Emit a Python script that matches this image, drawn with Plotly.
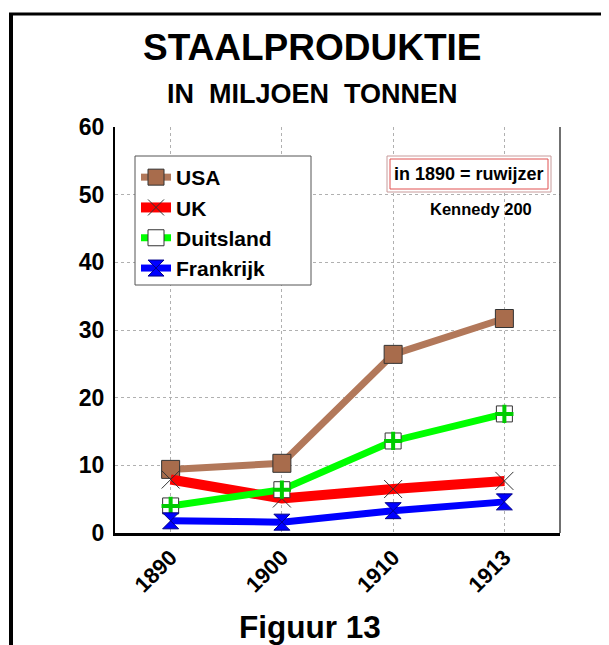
import plotly.graph_objects as go

years = ["1890", "1900", "1910", "1913"]
usa = [9.4, 10.3, 26.4, 31.7]
uk = [7.9, 5.1, 6.5, 7.7]
duitsland = [4.0, 6.4, 13.6, 17.6]
frankrijk = [1.8, 1.6, 3.3, 4.6]
y_ticks = [0, 10, 20, 30, 40, 50, 60]

FONT = "Arial, Liberation Sans, sans-serif"
OFF = 8  # page body margin

fig = go.Figure()
fig.add_trace(go.Scatter(
    x=years, y=usa, name="USA", mode="lines+markers",
    line=dict(color="#B2785A", width=7),
    marker=dict(symbol="square", size=18, color="#A86C4C", line=dict(color="#333333", width=1))))
fig.add_trace(go.Scatter(
    x=years, y=uk, name="UK", mode="lines+markers",
    line=dict(color="#FF0000", width=10),
    marker=dict(symbol="x-thin", size=18, color="#333333", line=dict(color="#333333", width=1))))
fig.add_trace(go.Scatter(
    x=years, y=duitsland, name="Duitsland", mode="lines+markers",
    line=dict(color="#00FF00", width=7),
    marker=dict(symbol="square", size=16, color="white", line=dict(color="#333333", width=1))))
fig.add_trace(go.Scatter(
    x=years, y=duitsland, name="Duitsland", mode="markers", showlegend=False,
    marker=dict(symbol="cross-thin", size=13, color="#00CC00", line=dict(color="#00CC00", width=4))))
fig.add_trace(go.Scatter(
    x=years, y=frankrijk, name="Frankrijk", mode="lines+markers",
    line=dict(color="#0000FF", width=7),
    marker=dict(symbol="hourglass", size=16, color="#0000FF", line=dict(color="#000088", width=1))))

def px_x(x):
    # x: pixel in reference page; plot left edge at 115 page
    return (x - OFF - 107) / 445.0

def py(y):
    # y: pixel in reference page; plot bottom at 533 page
    return (533 - y) / 406.0

shapes = [
    # outer frame (left + top)
    dict(type="line", xref="paper", yref="paper", x0=px_x(11), x1=px_x(11), y0=py(13), y1=py(660),
         line=dict(color="black", width=4)),
    dict(type="line", xref="paper", yref="paper", x0=px_x(9), x1=px_x(620), y0=py(14), y1=py(14),
         line=dict(color="black", width=3)),
    # right border of plot
    dict(type="line", xref="paper", yref="paper", x0=1, x1=1, y0=0, y1=1,
         line=dict(color="#404040", width=1.5)),
    # legend box
    dict(type="rect", xref="paper", yref="paper", x0=px_x(135), x1=px_x(311), y0=py(285), y1=py(156),
         line=dict(color="#555555", width=1), fillcolor="white"),
    # annotation double box
    dict(type="rect", xref="paper", yref="paper", x0=px_x(387), x1=px_x(551), y0=py(192), y1=py(156),
         line=dict(color="#C89A9A", width=1), fillcolor="white"),
    dict(type="rect", xref="paper", yref="paper", x0=px_x(390), x1=px_x(548), y0=py(189), y1=py(159),
         line=dict(color="#E05050", width=1)),
]

annotations = [
    dict(text="<b>STAALPRODUKTIE</b>", xref="paper", yref="paper", x=px_x(312), y=py(47),
         showarrow=False, font=dict(family=FONT, size=37, color="black"), xanchor="center", yanchor="middle"),
    dict(text="<b>IN  MILJOEN  TONNEN</b>", xref="paper", yref="paper", x=px_x(312), y=py(94),
         showarrow=False, font=dict(family=FONT, size=27, color="black"), xanchor="center", yanchor="middle"),
    dict(text="<b>Figuur 13</b>", xref="paper", yref="paper", x=px_x(310), y=py(627),
         showarrow=False, font=dict(family=FONT, size=31.5, color="black"), xanchor="center", yanchor="middle"),
    dict(text="<b>in 1890 = ruwijzer</b>", xref="paper", yref="paper", x=px_x(469), y=py(174),
         showarrow=False, font=dict(family=FONT, size=18, color="black"), xanchor="center", yanchor="middle"),
    dict(text="<b>Kennedy 200</b>", xref="paper", yref="paper", x=px_x(481), y=py(209),
         showarrow=False, font=dict(family=FONT, size=16.5, color="black"), xanchor="center", yanchor="middle"),
]

fig.update_layout(
    width=601, height=637,
    margin=dict(l=107, r=49, t=119, b=112),
    paper_bgcolor="white", plot_bgcolor="white",
    showlegend=True,
    legend=dict(x=px_x(136), y=py(157), xanchor="left", yanchor="top",
                bgcolor="rgba(0,0,0,0)", borderwidth=0,
                font=dict(family=FONT, size=21, color="black", weight="bold"),
                tracegroupgap=0, itemwidth=30),
    shapes=shapes,
    annotations=annotations,
    xaxis=dict(type="category", range=[-0.5, 3.5], showgrid=True, gridcolor="#B0B0B0",
               griddash="dot", gridwidth=1, showline=True, linecolor="black", linewidth=3,
               tickangle=-45, tickfont=dict(family=FONT, size=22, color="black", weight="bold"),
               ticks="", zeroline=False),
    yaxis=dict(range=[0, 60], tickvals=y_ticks, showgrid=True, gridcolor="#B0B0B0",
               griddash="dot", gridwidth=1, showline=True, linecolor="black", linewidth=2,
               tickfont=dict(family=FONT, size=23, color="black", weight="bold"),
               ticks="", zeroline=False, ticklabelstandoff=4),
)

fig.write_html("out.html")
